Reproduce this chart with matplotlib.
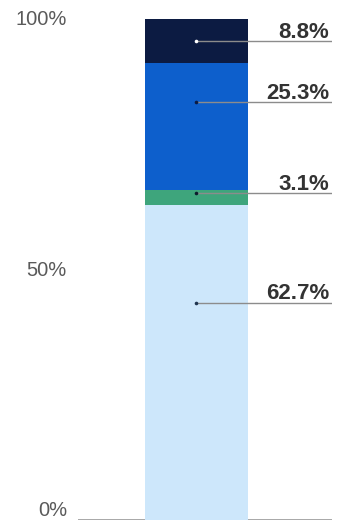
import matplotlib
matplotlib.use("Agg")
import matplotlib.pyplot as plt

plt.rcParams["font.family"] = ["Liberation Sans", "DejaVu Sans"]

# Stacked shares, bottom to top
segments = ["Segment A", "Segment B", "Segment C", "Segment D"]
shares = [62.7, 3.1, 25.3, 8.8]
colors = ["#cde7fb", "#3ea57c", "#0d5fcc", "#0c1b42"]
dot_colors = ["#1f3550", "#0c1b2c", "#0c1b42", "#ffffff"]
# where in each segment the label leader starts (fraction of segment height)
anchor_frac = [0.69, 0.77, 0.69, 0.48]
tick_values = [0, 50, 100]
tick_labels = ["0%", "50%", "100%"]

fig = plt.figure(figsize=(3.44, 5.26), dpi=100)
ax = fig.add_axes([78 / 344, 6 / 526, 254 / 344, 502 / 526])
ax.set_xlim(0, 1)
ax.set_ylim(0, 100)

bar_x = 0.4665
bar_w = 0.4055
bottom = 0.0
for name, val, col, dcol, frac in zip(segments, shares, colors, dot_colors, anchor_frac):
    ax.bar(bar_x, val, width=bar_w, bottom=bottom, color=col, linewidth=0, zorder=2)
    y = bottom + val * frac
    ax.plot([bar_x, 1.0], [y, y], color="#8c8c8c", lw=1.0, zorder=3, solid_capstyle="butt")
    ax.plot([bar_x], [y], marker="o", ms=2.6, color=dcol, mec="none", zorder=4)
    ax.annotate(f"{val:.1f}%", xy=(0.99, y), xytext=(0, 2.5), textcoords="offset points",
                ha="right", va="baseline", fontsize=16, fontweight="bold",
                color="#333333", zorder=5)
    bottom += val

# baseline
ax.axhline(0, color="#999999", lw=1.2, zorder=1)

for s in ax.spines.values():
    s.set_visible(False)
ax.set_xticks([])
ax.set_yticks(tick_values)
ax.set_yticklabels(tick_labels, fontsize=14.5, color="#5a5a5a")
ax.tick_params(axis="y", length=0, pad=8)
for lbl in ax.get_yticklabels():
    if lbl.get_text() == "0%":
        lbl.set_va("bottom")
        lbl.set_y(-0.6)

fig.savefig("out.png", dpi=100)
